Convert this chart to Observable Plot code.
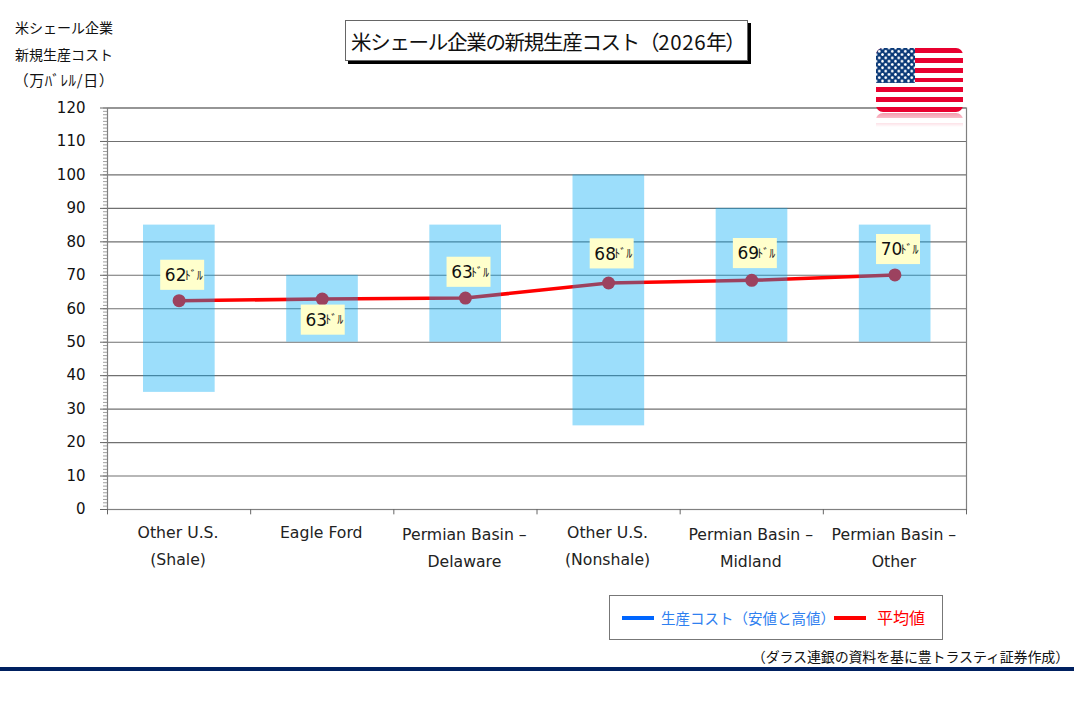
<!DOCTYPE html>
<html lang="ja">
<head>
<meta charset="utf-8">
<script src="https://cdn.jsdelivr.net/npm/d3@7"></script>
<script src="https://cdn.jsdelivr.net/npm/@observablehq/plot@0.6"></script>
<style>
  html, body { margin: 0; padding: 0; background: #fff; width: 1074px; height: 707px; overflow: hidden; }
  body { position: relative; font-family: "Noto Sans CJK JP", "Noto Sans", sans-serif; color: #111; }
  #chart { position: absolute; left: 0; top: 0; }
  .abs { position: absolute; white-space: nowrap; }
  #title { left: 345px; top: 20px; width: 401px; height: 39px; border: 1px solid #666; box-shadow: 3px 3px 0 #000;
           font-size: 20.5px; line-height: 40px; background: #fff; text-indent: 5px; letter-spacing: -1.3px; }
  #title span { letter-spacing: 0.6px; }
  .ytitle { width: 130px; left: -1px; text-align: center; font-size: 14px; line-height: 20px; }
  #legend { left: 609px; top: 595px; width: 332px; height: 43px; border: 1px solid #777; background: #fff; }
  .lg-line { position: absolute; top: 20px; height: 4px; width: 32px; }
  .lg-text { position: absolute; top: 10px; font-size: 14.5px; line-height: 23px; white-space: nowrap; }
  #source { right: 5px; top: 646px; font-size: 14px; line-height: 20px; letter-spacing: -0.15px; }
  #rule { left: 0; top: 667px; width: 1074px; height: 4px; background: #002060; }
  #flag { left: 876px; top: 48px; width: 87px; height: 64px; border-radius: 7px; overflow: hidden;
          background: repeating-linear-gradient(to bottom, #e8002f 0 4.92px, #fff 4.92px 9.84px);
          -webkit-box-reflect: below 1px linear-gradient(transparent 78%, rgba(255,255,255,.4)); }
  #canton { position: absolute; left: 0; top: 0; width: 39px; height: 35px; background-color: #0b3a78;
            background-image: radial-gradient(circle, #fff 0 1.1px, transparent 1.5px), radial-gradient(circle, #fff 0 1.1px, transparent 1.5px);
            background-size: 6.5px 6.6px; background-position: 0 0, 3.25px 3.3px; }
</style>
</head>
<body>
<div id="chart"></div>
<div class="abs" id="title">米シェール企業の新規生産コスト（<span>2026</span>年）</div>
<div class="abs ytitle" style="top:17px">米シェール企業</div>
<div class="abs ytitle" style="top:44px">新規生産コスト</div>
<div class="abs ytitle" style="top:70px;font-size:15px;letter-spacing:.6px">（万ﾊﾞﾚﾙ/日）</div>
<div class="abs" id="flag"><div id="canton"></div></div>
<div class="abs" id="legend">
  <div class="lg-line" style="left:12px;background:#0066ff"></div>
  <div class="lg-text" style="left:51px;color:#2f80f0">生産コスト（安値と高値）</div>
  <div class="lg-line" style="left:224px;background:#ff0000"></div>
  <div class="lg-text" style="left:267px;color:#ff0000;font-size:16px">平均値</div>
</div>
<div class="abs" id="source">（ダラス連銀の資料を基に豊トラスティ証券作成）</div>
<div class="abs" id="rule"></div>
<script>
const categories = ["Other U.S.\n(Shale)", "Eagle Ford", "Permian Basin –\nDelaware", "Other U.S.\n(Nonshale)", "Permian Basin –\nMidland", "Permian Basin –\nOther"];
const lowCost = [35, 50, 50, 25, 50, 50];
const highCost = [85, 70, 85, 100, 90, 85];
const meanCost = [62.4, 62.9, 63.2, 67.7, 68.5, 70.1];
const meanLabels = ["62", "63", "63", "68", "69", "70"];
const labelUnit = "ﾄﾞﾙ";
const labelAnchors = [70, 56.6, 70.9, 76.4, 76.5, 77.7];
const majorTicks = d3.range(0, 121, 10);
const minorTicks = d3.range(0, 121, 1);

const rows = categories.map((name, i) => ({
  name, low: lowCost[i], high: highCost[i], mean: meanCost[i], label: meanLabels[i], anchor: labelAnchors[i]
}));
const font = "'DejaVu Sans', Verdana, sans-serif";
const cjk = "'Noto Sans CJK JP', sans-serif";
const halfBand = (966 - 107) / 6 / 2;

function labelMarks(subset, shift) {
  return [
    Plot.barY(subset, {x: "name", y1: d => d.anchor - 4.5, y2: d => d.anchor + 4.5, fill: "#ffffcc",
      insetLeft: 49.6 + shift, insetRight: 49.6 - shift}),
    Plot.text(subset, {x: "name", y: "anchor", text: "label", dx: shift - 7, dy: 0.5, fontSize: 17, fontFamily: font, fill: "#111"}),
    Plot.text(subset, {x: "name", y: "anchor", text: () => labelUnit, dx: shift + 11, dy: 0.5, fontSize: 12, fontFamily: cjk, fill: "#222"})
  ];
}

const chart = Plot.plot({
  width: 1074, height: 707,
  marginLeft: 107, marginRight: 108, marginTop: 107.5, marginBottom: 198,
  style: {background: "transparent", fontFamily: font, overflow: "visible"},
  x: {type: "band", domain: categories, padding: 0, round: false, axis: null},
  y: {domain: [0, 120], axis: null},
  marks: [
    Plot.gridY(majorTicks, {stroke: "#707070", strokeOpacity: 1, strokeWidth: 1.1}),
    Plot.line(rows, {x: "name", y: "mean", stroke: "#ff0000", strokeWidth: 3.6}),
    Plot.dot(rows, {x: "name", y: "mean", r: 6.5, fill: "#ff0000"}),
    Plot.barY(rows, {x: "name", y1: "low", y2: "high", fill: "#00aaf5", fillOpacity: 0.39, insetLeft: 36, insetRight: 35.5}),
    Plot.frame({stroke: "#808080", strokeWidth: 1.2}),
    Plot.axisY(minorTicks, {tickSize: 4, tickFormat: () => null, stroke: "#888", strokeWidth: 0.8}),
    Plot.axisY(majorTicks, {tickSize: 7, tickPadding: 15, fontSize: 15, fontFamily: font, fill: "#111", stroke: "#666", marginLeft: 60}),
    Plot.ruleX(categories, {x: d => d, y1: 0, y2: -1.6, dx: -halfBand, stroke: "#666"}),
    Plot.ruleX(categories.slice(-1), {x: d => d, y1: 0, y2: -1.6, dx: halfBand, stroke: "#666"}),
    ...labelMarks(rows.filter(d => d.name !== "Eagle Ford"), 3.6),
    ...labelMarks(rows.filter(d => d.name === "Eagle Ford"), 1),
    Plot.text(categories.filter(d => !d.startsWith("Permian")), {x: d => d, y: () => 0, text: d => d, lineAnchor: "top",
      lineHeight: 1.72, dy: 9, dx: -1, fontSize: 15.7, fontFamily: font, fill: "#222"}),
    Plot.text(categories.filter(d => d.startsWith("Permian")), {x: d => d, y: () => 0, text: d => d, lineAnchor: "top",
      lineHeight: 1.72, dy: 11, dx: -1, fontSize: 15.7, fontFamily: font, fill: "#222"})
  ]
});
document.getElementById("chart").appendChild(chart);
</script>
</body>
</html>
